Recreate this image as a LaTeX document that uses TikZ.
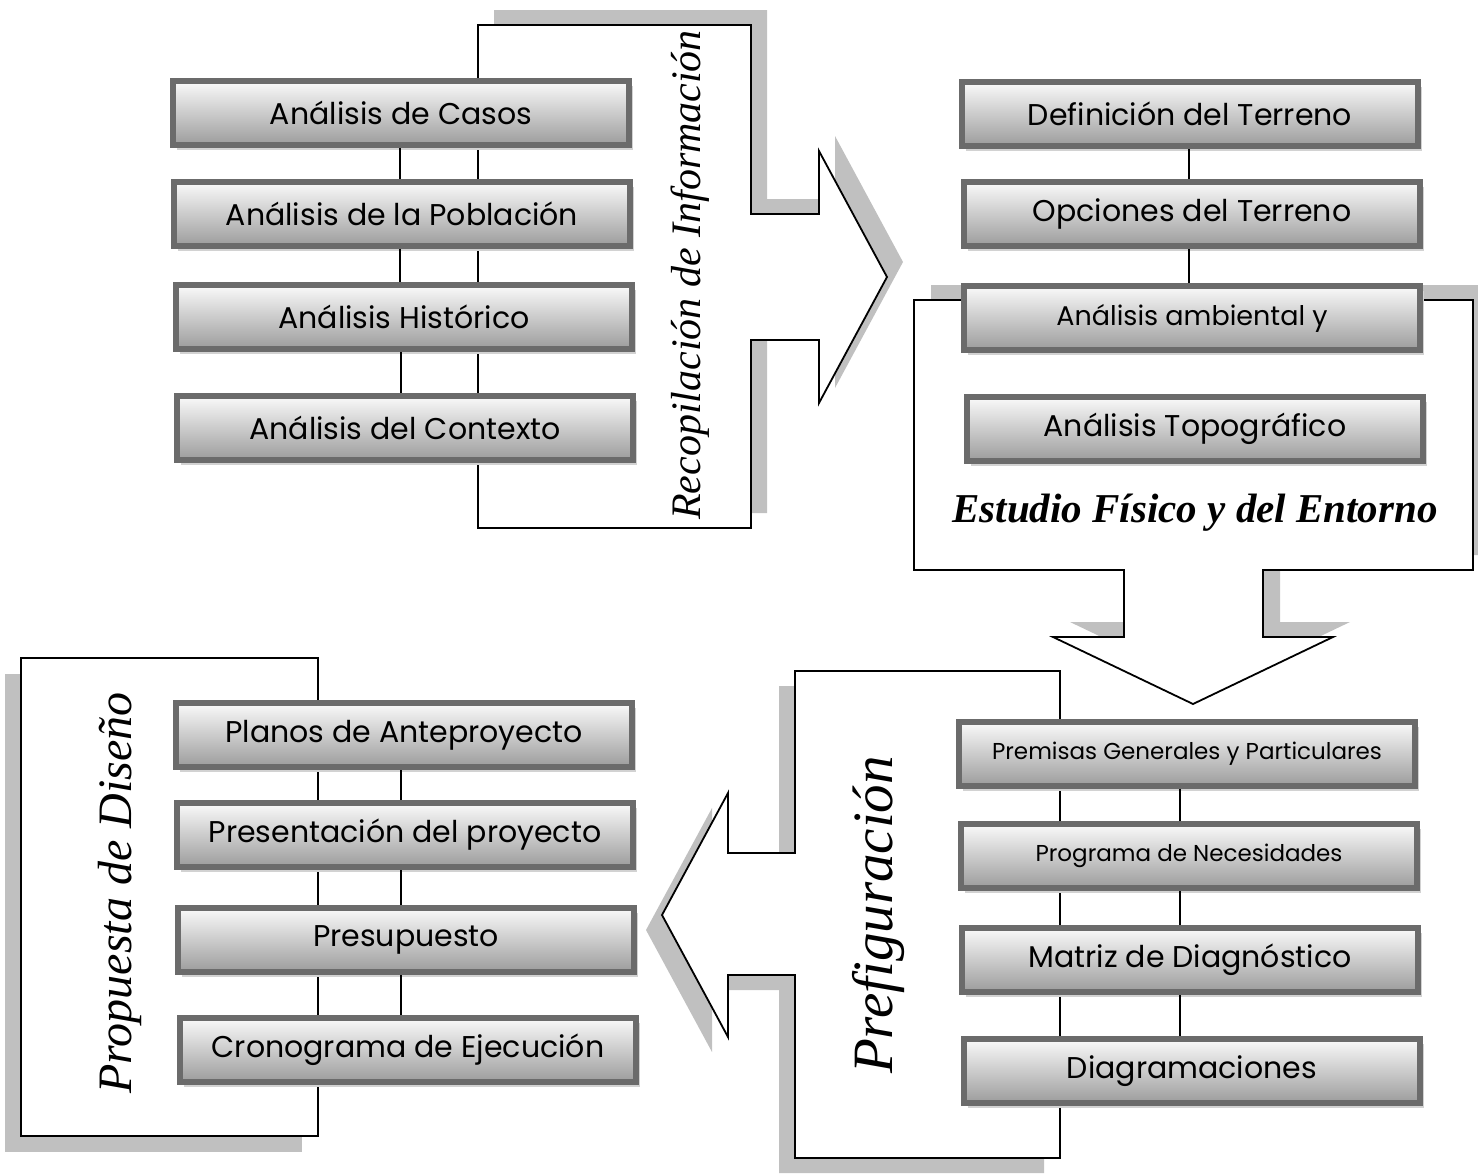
\documentclass[tikz,border=0pt]{standalone}
\usepackage{fontspec}
\setmainfont{Poppins}
\newfontfamily\scriptface{Liberation Serif}
\usetikzlibrary{shadows}

\definecolor{boxedge}{HTML}{6B6B6B}
\definecolor{boxtop}{HTML}{FAFAFA}
\definecolor{boxbottom}{HTML}{9C9C9C}
\definecolor{boxshade}{HTML}{D2D2D2}
\definecolor{calloutgray}{HTML}{C0C0C0}

\begin{document}
\begin{tikzpicture}[x=1pt, y=-1pt,
    stage/.style={draw=boxedge, line width=6pt, top color=boxtop, bottom color=boxbottom,
        minimum width=456pt, minimum height=64pt, inner sep=0pt,
        font=\fontsize{30}{36}\selectfont,
        drop shadow={shadow xshift=4pt, shadow yshift=-5pt, fill=boxshade, opacity=1}},
    smalltext/.style={font=\fontsize{23}{28}\selectfont},
    callout/.style={draw=black, line width=1.8pt, fill=white},
    calloutshade/.style={fill=calloutgray},
    title/.style={font=\fontsize{42}{50}\selectfont\scriptface\itshape},
    link/.style={draw=black, line width=1.8pt}]

    \useasboundingbox (0,0) rectangle (1478,1173);

    % callout shadows
    \fill[calloutshade, shift={(16,-15)}] (478,25) -- (751,25) -- (751,214) -- (819,214) -- (819,151)
        -- (887,277) -- (819,403) -- (819,340) -- (751,340) -- (751,528) -- (478,528) -- cycle;
    \fill[calloutshade, shift={(17,-15)}] (914,300) -- (1473,300) -- (1473,570) -- (1263,570) -- (1263,637)
        -- (1333,637) -- (1193,704) -- (1053,637) -- (1124,637) -- (1124,570) -- (914,570) -- cycle;
    \fill[calloutshade, shift={(-16,15)}] (795,671) -- (1060,671) -- (1060,1158) -- (795,1158) -- (795,975)
        -- (728,975) -- (728,1037) -- (662,915) -- (728,793) -- (728,853) -- (795,853) -- cycle;
    \fill[calloutshade, shift={(-16,16)}] (21,658) rectangle (318,1136);

    % callouts
    \draw[callout] (478,25) -- (751,25) -- (751,214) -- (819,214) -- (819,151)
        -- (887,277) -- (819,403) -- (819,340) -- (751,340) -- (751,528) -- (478,528) -- cycle;
    \draw[callout] (914,300) -- (1473,300) -- (1473,570) -- (1263,570) -- (1263,637)
        -- (1333,637) -- (1193,704) -- (1053,637) -- (1124,637) -- (1124,570) -- (914,570) -- cycle;
    \draw[callout] (795,671) -- (1060,671) -- (1060,1158) -- (795,1158) -- (795,975)
        -- (728,975) -- (728,1037) -- (662,915) -- (728,793) -- (728,853) -- (795,853) -- cycle;
    \draw[callout] (21,658) rectangle (318,1136);

    % titles
    \node[title, rotate=90] (recop) at (690,275) {Recopilación de Información};
    \node[title, font=\fontsize{41}{49}\selectfont\scriptface\itshape\bfseries] (estudio) at (1195,513) {Estudio Físico y del Entorno};
    \node[title, rotate=90, font=\fontsize{57}{68}\selectfont\scriptface\itshape] (prefig) at (878,915) {Prefiguración};
    \node[title, rotate=90, font=\fontsize{48}{58}\selectfont\scriptface\itshape] (propuesta) at (120,893) {Propuesta de Diseño};

    % information boxes
    \node[stage] (casos) at (401,113) {Análisis de Casos};
    \node[stage] (poblacion) at (402,214) {Análisis de la Población};
    \node[stage] (historico) at (404,317) {Análisis Histórico};
    \node[stage] (contexto) at (405,428) {Análisis del Contexto};

    % terrain boxes
    \node[stage] (definicion) at (1190,114) {Definición del Terreno};
    \node[stage] (opciones) at (1192,214) {Opciones del Terreno};
    \node[stage, font=\fontsize{27}{32}\selectfont] (ambiental) at (1192,318) {Análisis ambiental y};
    \node[stage] (topografico) at (1195,429) {Análisis Topográfico};

    % prefiguration boxes
    \node[stage, smalltext] (premisas) at (1187,754) {Premisas Generales y Particulares};
    \node[stage, smalltext] (programa) at (1189,856) {Programa de Necesidades};
    \node[stage] (matriz) at (1190,960) {Matriz de Diagnóstico};
    \node[stage] (diagramas) at (1192,1071) {Diagramaciones};

    % design boxes
    \node[stage] (planos) at (404,735) {Planos de Anteproyecto};
    \node[stage] (presentacion) at (405,835) {Presentación del proyecto};
    \node[stage] (presupuesto) at (406,940) {Presupuesto};
    \node[stage] (cronograma) at (408,1050) {Cronograma de Ejecución};

    % links
    \draw[link] ([xshift=-1pt]casos.south) -- ([xshift=-1pt]casos.south |- poblacion.north);
    \draw[link] ([xshift=-2pt]poblacion.south) -- ([xshift=-2pt]poblacion.south |- historico.north);
    \draw[link] ([xshift=-3pt]historico.south) -- ([xshift=-3pt]historico.south |- contexto.north);
    \draw[link] ([xshift=-1pt]definicion.south) -- ([xshift=-1pt]definicion.south |- opciones.north);
    \draw[link] ([xshift=-3pt]opciones.south) -- ([xshift=-3pt]opciones.south |- ambiental.north);
    \draw[link] ([xshift=-7pt]premisas.south) -- ([xshift=-7pt]premisas.south |- programa.north);
    \draw[link] ([xshift=-9pt]programa.south) -- ([xshift=-9pt]programa.south |- matriz.north);
    \draw[link] ([xshift=-10pt]matriz.south) -- ([xshift=-10pt]matriz.south |- diagramas.north);
    \draw[link] ([xshift=-3pt]planos.south) -- ([xshift=-3pt]planos.south |- presentacion.north);
    \draw[link] ([xshift=-4pt]presentacion.south) -- ([xshift=-4pt]presentacion.south |- presupuesto.north);
    \draw[link] ([xshift=-5pt]presupuesto.south) -- ([xshift=-5pt]presupuesto.south |- cronograma.north);
\end{tikzpicture}
\end{document}
